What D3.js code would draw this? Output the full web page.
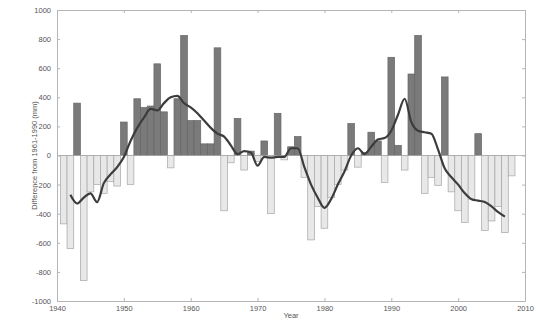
<!DOCTYPE html>
<html><head><meta charset="utf-8">
<script src="https://cdn.jsdelivr.net/npm/d3@7"></script>
<style>body{margin:0;background:#fff}svg{display:block}</style>
</head><body><svg id="c" width="536" height="320"></svg>
<script>
const years = d3.range(1941, 2009);
const anomalies = [
 -470,-640,360,-860,-250,-200,-260,-180,-210,230,
 -200,390,330,340,630,300,-85,390,825,240,
 240,80,80,740,-380,-50,255,-100,30,-40,
 100,-400,290,-30,60,130,-150,-580,-350,-500,
 -290,-200,-100,220,-80,20,160,100,-185,675,
 70,-100,560,825,-260,-150,-205,540,-250,-380,
 -460,-300,150,-515,-450,-350,-530,-140];
const smoothYears = d3.range(1942, 2008);
const smoothValues = [
 -270,-330,-290,-260,-320,-190,-130,-80,-10,100,
 190,260,320,310,360,400,410,360,330,290,
 240,190,150,130,70,10,30,20,-70,-10,
 -15,-10,-10,50,50,-80,-200,-290,-360,-300,
 -200,-110,0,50,10,60,110,120,170,280,
 390,230,170,160,150,40,-90,-150,-200,-260,
 -300,-310,-320,-350,-390,-420];
const xTicks = [1940,1950,1960,1970,1980,1990,2000,2010];
const yTicks = [-1000,-800,-600,-400,-200,0,200,400,600,800,1000];
const yLabel = "Difference from 1961-1990 (mm)";
const xLabel = "Year";

const svg = d3.select("#c");
const L=57,R=525,T=10,B=301;
const x = d3.scaleLinear().domain([1940,2010]).range([L,R]);
const y = d3.scaleLinear().domain([-1000,1000]).range([B,T]);
const bw = x(1941)-x(1940);

const g = svg.append("g");
g.selectAll("rect.bar").data(years.map((yr,i)=>({yr,v:anomalies[i]}))).join("rect")
 .attr("x",d=>x(d.yr)-bw/2).attr("width",bw)
 .attr("y",d=>y(Math.max(0,d.v))).attr("height",d=>Math.abs(y(d.v)-y(0)))
 .attr("fill",d=>d.v>=0?"#7a7a7a":"#e8e8e8")
 .attr("stroke",d=>d.v>=0?"#666":"#a5a5a5").attr("stroke-width",0.7);

g.append("line").attr("x1",L).attr("x2",R).attr("y1",y(0)).attr("y2",y(0)).attr("stroke","#aaa").attr("stroke-width",0.8);

const line = d3.line().x((d,i)=>x(smoothYears[i])).y(d=>y(d)).curve(d3.curveMonotoneX);
g.append("path").datum(smoothValues).attr("d",line).attr("fill","none").attr("stroke","#3c3c3c").attr("stroke-width",2.2);

function style(sel){
 sel.select(".domain").attr("stroke","#b5b5b5");
 sel.selectAll(".tick line").attr("stroke","#b5b5b5");
 sel.selectAll("text").attr("fill","#555").attr("font-family","Liberation Sans, Arial, sans-serif").attr("font-size",7.5);
}
const fmt = d => String(d);
const ax = svg.append("g").attr("transform",`translate(0,${B})`).call(d3.axisBottom(x).tickValues(xTicks).tickFormat(fmt).tickSizeInner(-3).tickSizeOuter(0).tickPadding(5));
style(ax);
const axT = svg.append("g").attr("transform",`translate(0,${T})`).call(d3.axisTop(x).tickValues(xTicks).tickFormat("").tickSizeInner(-3).tickSizeOuter(0));
style(axT);
const ay = svg.append("g").attr("transform",`translate(${L},0)`).call(d3.axisLeft(y).tickValues(yTicks).tickFormat(fmt).tickSizeInner(-3).tickSizeOuter(0).tickPadding(6));
style(ay);
const ayR = svg.append("g").attr("transform",`translate(${R},0)`).call(d3.axisRight(y).tickValues(yTicks).tickFormat("").tickSizeInner(-3).tickSizeOuter(0));
style(ayR);

svg.append("text").attr("transform",`translate(37,${(T+B)/2}) rotate(-90)`).attr("text-anchor","middle")
 .attr("font-family","Liberation Sans, Arial, sans-serif").attr("font-size",7.5).attr("fill","#555").text(yLabel);
svg.append("text").attr("x",(L+R)/2).attr("y",318).attr("text-anchor","middle")
 .attr("font-family","Liberation Sans, Arial, sans-serif").attr("font-size",7.5).attr("fill","#555").text(xLabel);
</script></body></html>
